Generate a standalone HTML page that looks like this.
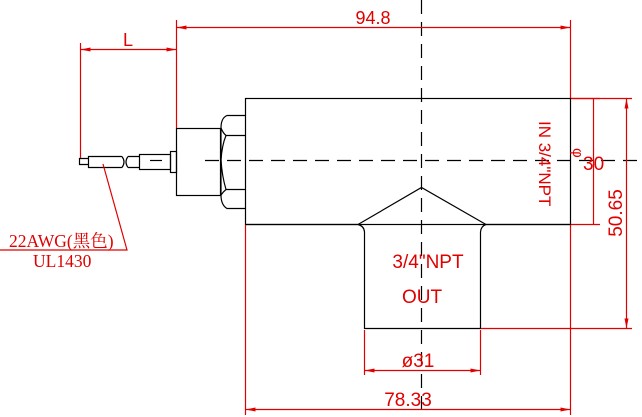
<!DOCTYPE html>
<html><head><meta charset="utf-8"><style>html,body{margin:0;padding:0;background:#fff}svg{display:block}</style></head>
<body>
<svg width="642" height="417" viewBox="0 0 642 417" xmlns="http://www.w3.org/2000/svg">
<defs>
<marker id="a" markerWidth="10" markerHeight="6" refX="10" refY="3" orient="auto-start-reverse" markerUnits="userSpaceOnUse"><path d="M10,3 L0,1 L0,5 Z" fill="#e00000"/></marker>
</defs>
<g stroke="#000" stroke-width="1.2" fill="none">
<line x1="421.5" y1="0" x2="421.5" y2="417" stroke-dasharray="14,8"/>
<line x1="205" y1="160.5" x2="642" y2="160.5" stroke-dasharray="14,8"/>
<line x1="150" y1="160.5" x2="162" y2="160.5"/>
<rect x="245.5" y="98.5" width="325" height="126"/>
<path d="M245.5,224.5 H358 Q364,226 364.5,232 V328.5 H480.5 V232 Q481,226 486,224.5 H570.5"/>
<path d="M358,224.5 L421.5,187.5 L486,224.5"/>
<rect x="176.5" y="128.5" width="44" height="67"/>
<path d="M245.5,115.5 H227 Q221,118 221,128 V195 Q221,205 227,208.5 H245.5"/>
<line x1="226" y1="135.5" x2="245.5" y2="135.5"/>
<line x1="226" y1="189.5" x2="245.5" y2="189.5"/>
<path d="M221,128 Q223,133 226,135.5 Q222,145 221,160 Q222,176 226,189.5 Q223,192 221,195"/>
<rect x="170.5" y="151.5" width="6" height="21"/>
<rect x="139.5" y="154.5" width="31" height="15"/>
<path d="M128,156.5 H139.5 M128,167.5 H139.5 M128,156.5 Q124,162 128,167.5"/>
<path d="M122,156.5 H88.5 V167.5 H122 M122,156.5 Q126,162 122,167.5"/>
<path d="M88.5,158.5 H79.5 V164.5 H88.5"/>
</g>
<g stroke="#e00000" stroke-width="1.2" fill="none">
<line x1="176.5" y1="20" x2="176.5" y2="128"/>
<line x1="570.5" y1="20" x2="570.5" y2="98"/>
<line x1="176.5" y1="27.5" x2="570.5" y2="27.5" marker-start="url(#a)" marker-end="url(#a)"/>
<line x1="80.5" y1="43" x2="80.5" y2="158"/>
<line x1="80.5" y1="49.5" x2="176.5" y2="49.5" marker-start="url(#a)" marker-end="url(#a)"/>
<line x1="245.5" y1="225" x2="245.5" y2="415"/>
<line x1="570.5" y1="225" x2="570.5" y2="415"/>
<line x1="245.5" y1="409.5" x2="570.5" y2="409.5" marker-start="url(#a)" marker-end="url(#a)"/>
<line x1="364.5" y1="330" x2="364.5" y2="375"/>
<line x1="480.5" y1="330" x2="480.5" y2="375"/>
<line x1="364.5" y1="370.5" x2="480.5" y2="370.5" marker-start="url(#a)" marker-end="url(#a)"/>
<line x1="571" y1="98.5" x2="600" y2="98.5"/>
<line x1="571" y1="224.5" x2="600" y2="224.5"/>
<line x1="593.5" y1="98.5" x2="593.5" y2="224.5"/>
<line x1="571" y1="98.5" x2="632" y2="98.5"/>
<line x1="481" y1="328.5" x2="632" y2="328.5"/>
<line x1="626.5" y1="98.5" x2="626.5" y2="328.5" marker-start="url(#a)" marker-end="url(#a)"/>
<path d="M103,164 L127,250 H0"/>
</g>
<g fill="#e00000" font-family="Liberation Sans, sans-serif" font-size="18">
<text x="373" y="24" text-anchor="middle">94.8</text>
<text x="128" y="46" text-anchor="middle">L</text>
<text x="408" y="406" text-anchor="middle" font-size="19">78.33</text>
<text x="418" y="367" text-anchor="middle" font-size="19">ø31</text>
<text x="428" y="268" text-anchor="middle" font-size="19">3/4"NPT</text>
<text x="422" y="303" text-anchor="middle" font-size="19">OUT</text>
<text transform="translate(539,121) rotate(90)" font-size="17">IN 3/4"NPT</text>
<text transform="translate(573,148) rotate(90)" font-size="15">φ</text>
<text x="583" y="170" font-size="19">30</text>
<text transform="translate(622,213) rotate(-90)" text-anchor="middle" font-size="19">50.65</text>
</g>
<g fill="#e00000" font-family="Liberation Serif, 'Noto Serif CJK SC', serif" font-size="17.5">
<text x="9" y="247">22AWG(黑色)</text>
<text x="33" y="267">UL1430</text>
</g>
</svg>
</body></html>
